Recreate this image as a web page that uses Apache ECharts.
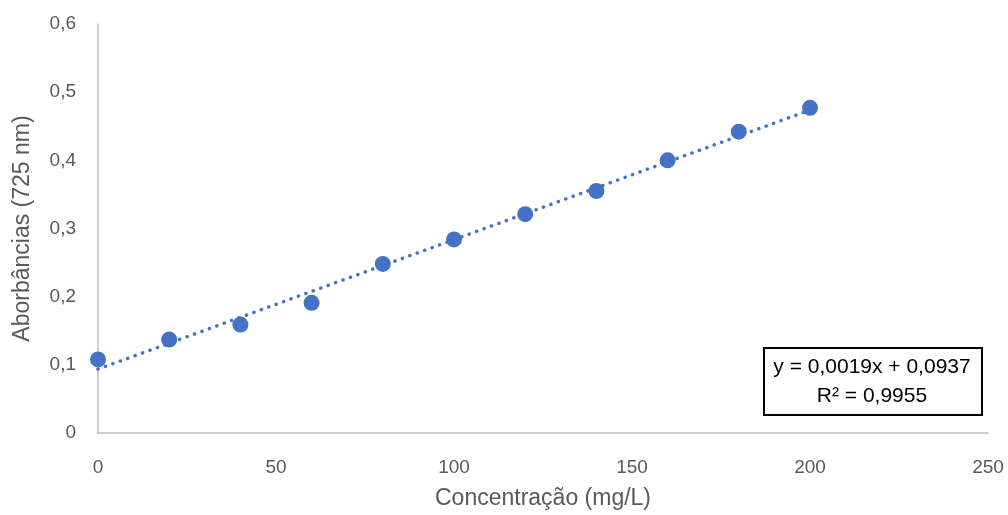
<!DOCTYPE html>
<html>
<head>
<meta charset="utf-8">
<script src="https://cdn.jsdelivr.net/npm/echarts@6/dist/echarts.min.js"></script>
<style>
  html, body { margin: 0; padding: 0; background: #fff; }
  #chart { width: 1008px; height: 515px; }
</style>
</head>
<body>
<div id="chart"></div>
<script>
// dados
var concentracoes = [0, 20, 40, 60, 80, 100, 120, 140, 160, 180, 200];
var absorbancias = [0.108, 0.137, 0.159, 0.191, 0.248, 0.284, 0.321, 0.355, 0.400, 0.442, 0.477];
// linha de tendência: y = 0,0019x + 0,0937
var tendenciaX = [0, 200];
var tendenciaY = [0.0937, 0.4737];
var equacao = 'y = 0,0019x + 0,0937';
var r2 = 'R² = 0,9955';

var fonte = '"Liberation Sans", "Noto Sans", sans-serif';
var azul = '#4472C4';

var chart = echarts.init(document.getElementById('chart'));

var pontos = concentracoes.map(function (x, i) { return [x, absorbancias[i]]; });
var tendencia = tendenciaX.map(function (x, i) { return [x, tendenciaY[i]]; });

function virgula(v) {
    return String(v).replace('.', ',');
}

var option = {
    animation: false,
    grid: { left: 98, right: 20, top: 24, bottom: 82, outerBoundsMode: 'none', containLabel: false },
    xAxis: {
        type: 'value',
        min: 0,
        max: 250,
        interval: 50,
        name: 'Concentração (mg/L)',
        nameLocation: 'middle',
        nameGap: 54,
        nameTextStyle: { color: '#595959', fontSize: 23, fontFamily: fonte },
        axisLine: { lineStyle: { color: '#bfbfbf', width: 1.5 } },
        axisTick: { show: false },
        splitLine: { show: false },
        axisLabel: { color: '#595959', fontSize: 19, fontFamily: fonte, margin: 25 }
    },
    yAxis: {
        type: 'value',
        min: 0,
        max: 0.6,
        interval: 0.1,
        name: 'Aborbâncias (725 nm)',
        nameLocation: 'middle',
        nameGap: 64,
        nameTextStyle: { color: '#595959', fontSize: 23, fontFamily: fonte },
        axisLine: { show: true, lineStyle: { color: '#bfbfbf', width: 1.5 } },
        axisTick: { show: false },
        splitLine: { show: false },
        axisLabel: { color: '#595959', fontSize: 19, fontFamily: fonte, margin: 22, formatter: virgula }
    },
    series: [{
        type: 'line',
        data: tendencia,
        symbol: 'none',
        silent: true,
        lineStyle: { color: azul, width: 3.5, type: [0.1, 7.8], cap: 'round' },
        z: 1
    }, {
        type: 'scatter',
        data: pontos,
        symbolSize: 16,
        itemStyle: { color: azul, opacity: 1 },
        z: 2
    }],
    graphic: [{
        type: 'rect',
        left: 763,
        top: 347,
        shape: { width: 218, height: 67 },
        style: { fill: '#fff', stroke: '#000', lineWidth: 2 }
    }, {
        type: 'text',
        x: 872,
        y: 367,
        style: { text: equacao, fill: '#000', font: '21px ' + fonte, textAlign: 'center', textVerticalAlign: 'middle' }
    }, {
        type: 'text',
        x: 872,
        y: 396,
        style: { text: r2, fill: '#000', font: '21px ' + fonte, textAlign: 'center', textVerticalAlign: 'middle' }
    }]
};

chart.setOption(option);
</script>
</body>
</html>
